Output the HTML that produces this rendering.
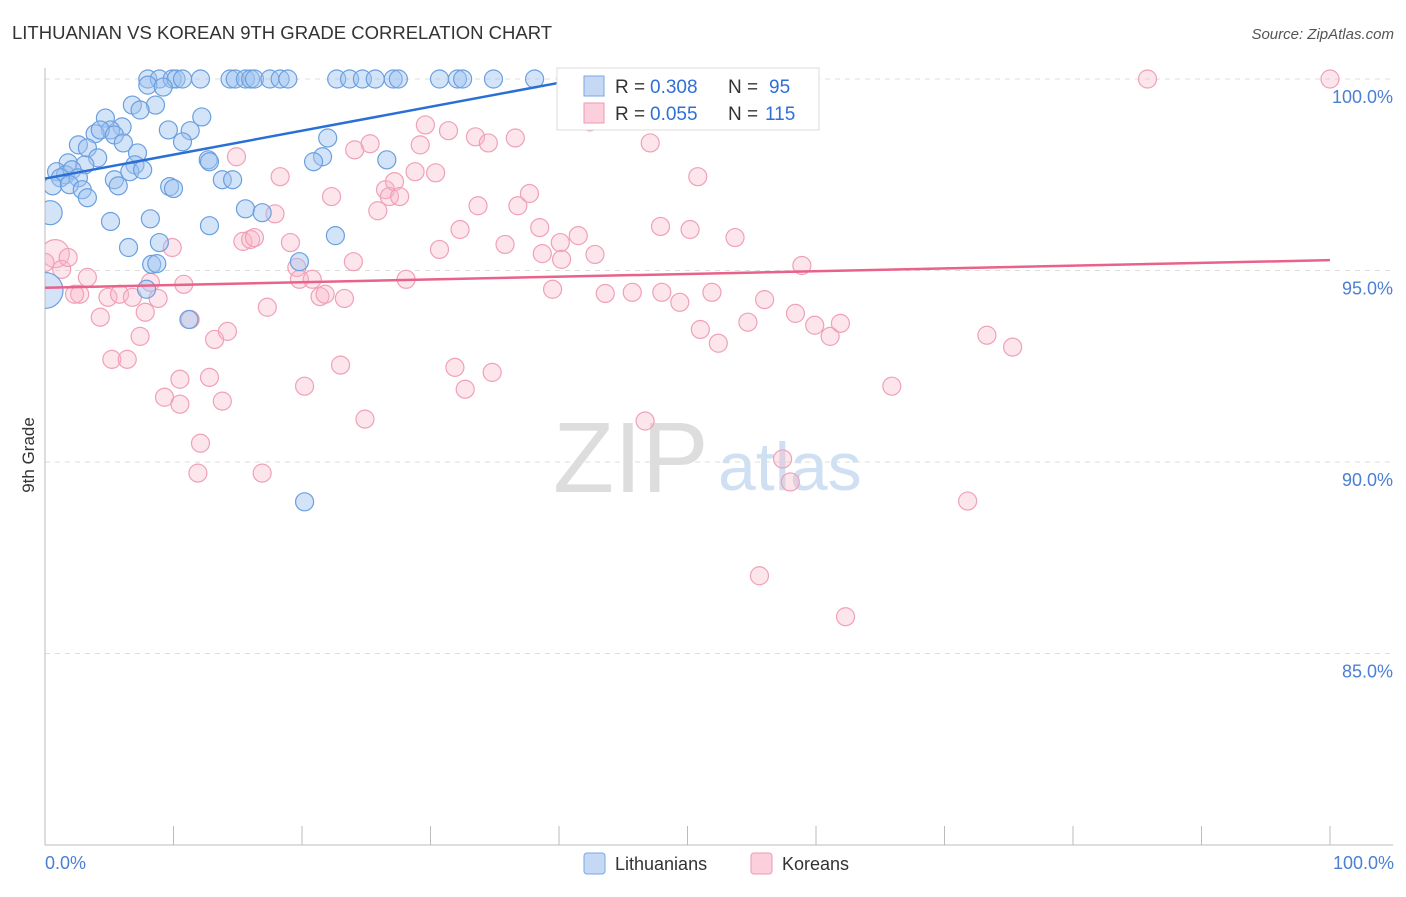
<!DOCTYPE html>
<html><head><meta charset="utf-8"><style>
body{margin:0;background:#fff;font-family:"Liberation Sans",sans-serif;}
svg text{font-family:"Liberation Sans",sans-serif;}
</style></head><body>
<svg id="chart" width="1406" height="892" xmlns="http://www.w3.org/2000/svg">
<defs><clipPath id="plotclip"><rect x="45" y="0" width="1400" height="845"/></clipPath></defs>
<text x="12" y="39" font-size="18.5" fill="#333">LITHUANIAN VS KOREAN 9TH GRADE CORRELATION CHART</text>
<text x="1394" y="39" font-size="15" fill="#555" text-anchor="end" font-style="italic">Source: ZipAtlas.com</text>
<text x="553" y="492" font-size="100" fill="#ddd" font-family="Liberation Serif,serif">ZIP</text>
<text x="718" y="490" font-size="68" fill="#cfe0f3">atlas</text>
<g id="grid"></g>
<g id="axes"></g>
<g id="pts" clip-path="url(#plotclip)"></g>
<g id="lines"></g>
<text transform="translate(34,455) rotate(-90)" font-size="17" fill="#333" text-anchor="middle">9th Grade</text>
<text x="45" y="869" font-size="18" fill="#4a7fd4">0.0%</text>
<text x="1394" y="869" font-size="18" fill="#4a7fd4" text-anchor="end">100.0%</text>
<g>
<rect x="557" y="68" width="262" height="62" fill="#fff" stroke="#ddd"/>
<rect x="584" y="76" width="20" height="20" fill="#c5d9f5" stroke="#7aa6e6"/>
<rect x="584" y="103" width="20" height="20" fill="#fbd0dc" stroke="#ee9ab3"/>
<text x="615" y="93" font-size="19" fill="#333">R =</text>
<text x="650" y="93" font-size="19" fill="#2f6fd6">0.308</text>
<text x="728" y="93" font-size="19" fill="#333">N =</text>
<text x="769" y="93" font-size="19" fill="#2f6fd6">95</text>
<text x="615" y="120" font-size="19" fill="#333">R =</text>
<text x="650" y="120" font-size="19" fill="#2f6fd6">0.055</text>
<text x="728" y="120" font-size="19" fill="#333">N =</text>
<text x="765" y="120" font-size="19" fill="#2f6fd6">115</text>
</g>
<g>
<rect x="584" y="853" width="21" height="21" rx="3" fill="#c5d9f5" stroke="#7aa6e6"/>
<text x="615" y="870" font-size="18" fill="#333">Lithuanians</text>
<rect x="751" y="853" width="21" height="21" rx="3" fill="#fbd0dc" stroke="#ee9ab3"/>
<text x="782" y="870" font-size="18" fill="#333">Koreans</text>
</g>
</svg>
<script>
const yTicks=[100,95,90,85];
const yTickLabels=["100.0%","95.0%","90.0%","85.0%"];
const xTicks=[0,10,20,30,40,50,60,70,80,90,100];
const blueX=[8.0,8.9,9.9,10.2,10.7,12.1,14.4,14.8,15.6,16.0,16.3,17.5,18.3,18.9,22.7,23.7,24.7,25.7,27.1,27.5,30.7,32.1,32.5,34.9,38.1,
8.0,9.2,6.8,8.6,4.7,7.4,12.2,6.0,5.1,3.9,4.3,5.4,9.6,11.3,10.7,2.6,3.3,6.1,7.2,22.0,4.1,1.8,3.1,7.0,12.7,12.8,21.6,20.9,26.6,0.9,1.6,2.1,1.2,2.6,5.4,6.6,7.6,13.8,14.6,0.6,1.9,2.9,3.3,5.7,9.7,10.0,0.4,5.1,8.2,12.8,15.6,16.9,6.5,8.9,22.6,8.3,8.7,19.8,7.9,11.2,20.2,0.0];
const blueY=[100,100,100,100,100,100,100,100,100,100,100,100,100,100,100,100,100,100,100,100,100,100,100,100,100,
99.84,99.79,99.32,99.32,98.98,99.19,99.01,98.75,98.67,98.57,98.67,98.54,98.67,98.65,98.36,98.28,98.20,98.33,98.07,98.46,97.94,97.81,97.76,97.76,97.89,97.84,97.97,97.84,97.89,97.58,97.50,97.63,97.42,97.42,97.37,97.58,97.63,97.37,97.37,97.21,97.24,97.11,96.90,97.21,97.19,97.14,96.51,96.28,96.35,96.17,96.61,96.51,95.60,95.73,95.91,95.16,95.18,95.23,94.51,93.72,88.96,94.48];
const pinkX=[0.8,0,1.3,1.8,3.3,2.7,2.3,4.3,4.9,5.2,6.4,5.8,6.8,7.4,7.8,8.2,8.8,9.9,10.8,11.3,9.3,10.5,10.5,12.8,13.8,12.1,11.9,13.2,14.2,14.9,15.4,16.0,16.3,16.9,17.3,17.9,18.3,19.1,19.6,19.8,20.8,21.4,21.8,20.2,23.0,23.3,24.0,22.3,24.1,24.9,25.3,25.9,26.5,26.8,27.2,27.6,28.1,28.8,29.2,29.6,30.4,30.7,31.4,31.9,32.3,32.7,33.5,33.7,34.5,34.8,35.8,36.6,36.8,37.7,38.5,38.7,39.5,40.1,40.2,40.7,41.5,42.4,42.8,43.6,45.7,46.7,47.1,47.9,48.0,49.4,50.0,50.2,50.8,51.0,51.9,52.4,53.7,54.7,56.0,57.4,58.0,58.4,58.9,59.9,61.1,61.9,55.6,62.3,65.9,71.8,73.3,75.3,85.8,100];
const pinkY=[95.44,95.21,95.03,95.34,94.82,94.38,94.38,93.78,94.30,92.68,92.68,94.38,94.30,93.28,93.91,94.69,94.27,95.60,94.64,93.72,91.69,91.51,92.16,92.21,91.59,90.49,89.71,93.20,93.41,97.97,95.76,95.81,95.86,89.71,94.04,96.48,97.45,95.73,95.08,94.77,94.77,94.32,94.38,91.98,92.53,94.27,95.23,96.93,98.15,91.12,98.31,96.56,97.11,96.93,97.32,96.93,94.77,97.58,98.28,98.80,97.55,95.55,98.65,92.47,96.07,91.90,98.49,96.69,98.33,92.34,95.68,98.46,96.69,97.01,96.12,95.44,94.51,95.73,95.29,100,95.91,98.88,95.42,94.40,94.43,91.07,98.33,96.15,94.43,94.17,100,96.07,97.45,93.46,94.43,93.10,95.86,93.65,94.24,90.08,89.48,93.88,95.13,93.57,93.28,93.62,87.03,85.96,91.98,88.98,93.31,93.00,100,100];
const blueLine=[[0,97.4],[40,99.9]];
const pinkLine=[[0,94.55],[100,95.27]];
const NS="http://www.w3.org/2000/svg";
const xS=v=>45+v*12.85;
const yS=v=>79+(100-v)*38.3;
function mk(t,a,p){const e=document.createElementNS(NS,t);for(const k in a)e.setAttribute(k,a[k]);p.appendChild(e);return e;}
const grid=document.getElementById('grid'),axes=document.getElementById('axes'),pts=document.getElementById('pts'),lines=document.getElementById('lines');
yTicks.forEach((t,i)=>{
 const l=mk('line',{x1:45,x2:1393,y1:yS(t),y2:yS(t),stroke:'#ddd','stroke-dasharray':'5,5'},grid);
 
 
 const tx=mk('text',{x:1393,y:yS(t)+24,'font-size':18,fill:'#4a7fd4','text-anchor':'end'},grid);
 tx.textContent=yTickLabels[i];
 
 
});
const ya=mk('line',{x1:45,x2:45,y1:68,y2:845,stroke:'#bbb'},axes);


const xa=mk('line',{x1:45,x2:1393,y1:845,y2:845,stroke:'#bbb'},axes);


xTicks.forEach(t=>{
 const l=mk('line',{x1:xS(t),x2:xS(t),y1:826,y2:845,stroke:'#bbb'},axes);
 
 
});
function dots(X,Y,fill,stroke,name){
 X.forEach((x,i)=>{
  let r=9;
  if(name==='lithuanian-point'&&x===0)r=18;
  if(name==='lithuanian-point'&&x===0.4)r=12;
  if(name==='korean-point'&&i===0)r=14;
  const c=mk('circle',{cx:xS(x),cy:yS(Y[i]),r:r,fill:fill,stroke:stroke,'stroke-width':1.2},pts);
  
  
 });
}
dots(pinkX,pinkY,'rgba(248,180,200,0.35)','#f0a0b8','korean-point');
dots(blueX,blueY,'rgba(160,195,240,0.45)','#6a9fe0','lithuanian-point');
const bl=mk('line',{x1:xS(blueLine[0][0]),y1:yS(blueLine[0][1]),x2:xS(blueLine[1][0]),y2:yS(blueLine[1][1]),stroke:'#2a6fd6','stroke-width':2.5},lines);


const pl=mk('line',{x1:xS(pinkLine[0][0]),y1:yS(pinkLine[0][1]),x2:xS(pinkLine[1][0]),y2:yS(pinkLine[1][1]),stroke:'#e8628a','stroke-width':2.5},lines);


</script>
</body></html>
